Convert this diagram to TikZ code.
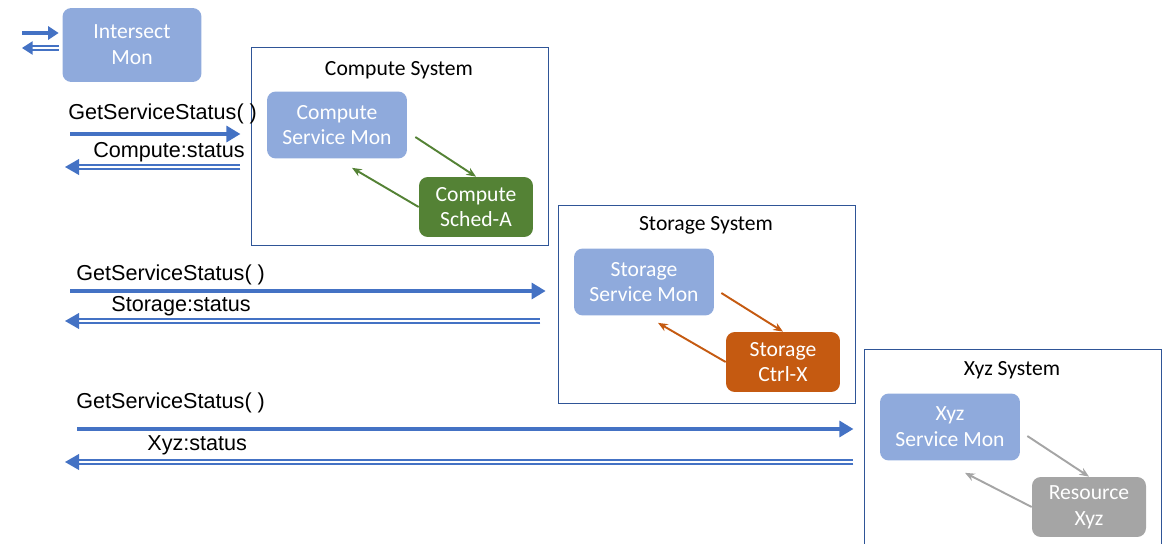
\documentclass[tikz,border=0pt]{standalone}
\usepackage{fontspec}
\setmainfont{Carlito}
\newfontfamily\callfont{Liberation Sans}
\usetikzlibrary{arrows.meta, positioning}

\definecolor{monblue}{HTML}{8FAADC}
\definecolor{callblue}{HTML}{4472C4}
\definecolor{frameblue}{HTML}{2F5597}
\definecolor{schedgreen}{HTML}{548235}
\definecolor{ctrlorange}{HTML}{C55A11}
\definecolor{resgray}{HTML}{A5A5A5}

\begin{document}
\begin{tikzpicture}[x=0.02cm, y=-0.02cm, >=Stealth,
    system/.style={draw=frameblue, line width=0.6pt, minimum width=5.94cm, minimum height=3.96cm, anchor=north west},
    mon/.style={rounded corners=5pt, fill=monblue, text=white, minimum width=2.8cm, minimum height=1.34cm, align=center, font=\fontsize{12.3}{14.7}\selectfont},
    worker/.style={rounded corners=5pt, text=white, minimum width=2.28cm, minimum height=1.2cm, align=center, font=\fontsize{12.3}{14.7}\selectfont},
    title/.style={font=\fontsize{12.3}{14.7}\selectfont},
    call/.style={-{Triangle[length=8pt,width=9pt]}, callblue, line width=2.2pt},
    reply/.style={-{Triangle[length=8pt,width=9pt]}, callblue, double=white, line width=0.8pt, double distance=1.3pt},
    inner/.style={-{Stealth[length=5.5pt,width=4.5pt]}, line width=1.1pt},
    lbl/.style={font=\callfont\fontsize{12.3}{14}\selectfont, inner sep=0pt}
]
\useasboundingbox (0,0) rectangle (1163,544);

% Intersect monitor
\node[mon, minimum width=2.78cm, minimum height=1.48cm] (imon) at (132,45) {Intersect\\Mon};
\coordinate (iin) at (22,33);
\coordinate (iout) at (22,48);
\draw[call, line width=2pt, -{Triangle[length=6pt,width=7.5pt]}] (iin) -- ([xshift=-2]iin -| imon.west);
\draw[reply, -{Triangle[length=6pt,width=7.5pt]}] ([xshift=-2]iout -| imon.west) -- (iout);

% Compute system
\node[system] (csys) at (251,47) {};
\node[title] (ctitle) at (399,70) {Compute System};
\node[mon] (cmon) at (337,125) {Compute\\Service Mon};
\node[worker, fill=schedgreen] (csched) at (476,207) {Compute\\Sched-A};
\draw[inner, schedgreen] ([shift={(8,12)}]cmon.east) -- (csched.north);
\draw[inner, schedgreen] (csched.west) -- ([shift={(15,9)}]cmon.south);

% Storage system
\node[system] (ssys) at (558,205) {};
\node[title] (stitle) at (706,225) {Storage System};
\node[mon] (smon) at (644,282) {Storage\\Service Mon};
\node[worker, fill=ctrlorange] (sctrl) at (783,362) {Storage\\Ctrl-X};
\draw[inner, ctrlorange] ([shift={(7,11)}]smon.east) -- (sctrl.north);
\draw[inner, ctrlorange] (sctrl.west) -- ([shift={(14,7)}]smon.south);

% Xyz system
\node[system] (xsys) at (864,349) {};
\node[title] (xtitle) at (1012,370) {Xyz System};
\node[mon] (xmon) at (950,427) {Xyz\\Service Mon};
\node[worker, fill=resgray] (xres) at (1089,507) {Resource\\Xyz};
\draw[inner, resgray] ([shift={(7,9)}]xmon.east) -- (xres.north);
\draw[inner, resgray] (xres.west) -- ([shift={(15,12)}]xmon.south);

% Calls and replies
\coordinate (ccall) at (70,134);
\coordinate (creply) at (65,167);
\coordinate (scall) at (70,291);
\coordinate (sreply) at (65,321);
\coordinate (xcall) at (77,429);
\coordinate (xreply) at (65,462);

\node[lbl, anchor=west] (cget) at (68,114) {GetServiceStatus( )};
\node[lbl, anchor=east] (cstat) at (245,152) {Compute:status};
\draw[call] (ccall) -- ([xshift=-6]ccall -| csys.west);
\draw[reply] ([xshift=-6]creply -| csys.west) -- (creply);

\node[lbl, anchor=west] (sget) at (76,275) {GetServiceStatus( )};
\node[lbl, anchor=west] (sstat) at (111,306) {Storage:status};
\draw[call] (scall) -- ([xshift=-7]scall -| ssys.west);
\draw[reply] ([xshift=-10]sreply -| ssys.west) -- (sreply);

\node[lbl, anchor=west] (xget) at (76,403) {GetServiceStatus( )};
\node[lbl, anchor=west] (xstat) at (147,445) {Xyz:status};
\draw[call] (xcall) -- ([xshift=-6]xcall -| xsys.west);
\draw[reply] ([xshift=-6]xreply -| xsys.west) -- (xreply);

\end{tikzpicture}
\end{document}
